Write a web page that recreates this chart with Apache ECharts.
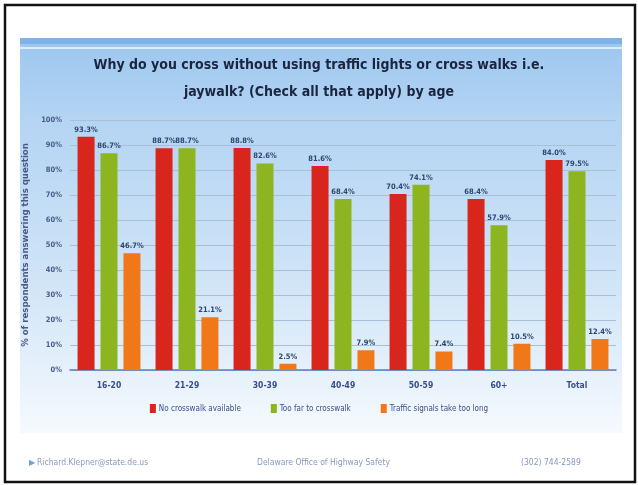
<!DOCTYPE html>
<html><head><meta charset="utf-8">
<script src="https://cdn.jsdelivr.net/npm/echarts@6/dist/echarts.min.js"></script>
<style>html,body{margin:0;padding:0;background:#fff}#c{width:638px;height:485px}</style>
</head><body><div id="c"></div>
<script>
const categories = ['16-20','21-29','30-39','40-49','50-59','60+','Total'];
const noCrosswalk = [93.3, 88.7, 88.8, 81.6, 70.4, 68.4, 84.0];
const tooFar = [86.7, 88.7, 82.6, 68.4, 74.1, 57.9, 79.5];
const signalsLong = [46.7, 21.1, 2.5, 7.9, 7.4, 10.5, 12.4];
const seriesNames = ['No crosswalk available','Too far to crosswalk','Traffic signals take too long'];
const yTicks = [0,10,20,30,40,50,60,70,80,90,100];

const FF = "'Liberation Sans Narrow','DejaVu Sans Condensed','Roboto Condensed','Liberation Sans',Roboto,sans-serif";
const chart = echarts.init(document.getElementById('c'), null, {renderer:'canvas'});
const lbl = {show:true, position:'top', distance:3, formatter: p => p.value.toFixed(1)+'%',
  fontFamily:FF, fontWeight:'bold', fontSize:7.5, color:'#2e4470'};
chart.setOption({
  animation:false,
  backgroundColor:'#ffffff',
  graphic:[
    {type:'rect', shape:{x:20,y:38,width:602,height:395}, z:-10,
     style:{fill:new echarts.graphic.LinearGradient(0,0,0,1,[
       {offset:0,color:'#9cc6ef'},{offset:0.2,color:'#b3d4f3'},{offset:0.6,color:'#cfe4f7'},{offset:0.85,color:'#e6f1fb'},{offset:1,color:'#f6fafe'}])}},
    {type:'rect', shape:{x:20,y:38,width:602,height:6}, z:-9, style:{fill:'#7fb2e6'}},
    {type:'rect', shape:{x:20,y:47,width:602,height:2}, z:-9, style:{fill:'#dcecfb'}},
    {type:'rect', shape:{x:5,y:5,width:630,height:477}, z:20, style:{fill:'none', stroke:'#111', lineWidth:2.5}},
    {type:'text', left:29, top:459, z:5, style:{text:'▶', fontSize:8, fill:'#6fa0d8'}},
    {type:'text', left:37, top:458, z:5, style:{text:'Richard.Klepner@state.de.us', fontFamily:FF, fontSize:8.5, fill:'#8a98bb'}},
    {type:'text', left:257, top:458, z:5, style:{text:'Delaware Office of Highway Safety', fontFamily:FF, fontSize:8.5, fill:'#8a98bb'}},
    {type:'text', left:521, top:458, z:5, style:{text:'(302) 744-2589', fontFamily:FF, fontSize:8.5, fill:'#8a98bb'}}
  ],
  title:{
    text:'Why do you cross without using traffic lights or cross walks i.e.\njaywalk? (Check all that apply) by age',
    left:'center', top:47,
    textStyle:{fontFamily:FF, fontWeight:'bold', fontSize:14, color:'#1c2540', lineHeight:27}
  },
  legend:{
    data:seriesNames, bottom:67, left:'center', itemWidth:6, itemHeight:9, itemGap:30,
    icon:'rect',
    textStyle:{fontFamily:FF, fontSize:8, color:'#3a4d86', padding:[0,0,0,-2]}
  },
  grid:{left:70, right:22, top:120, bottom:115},
  xAxis:{
    type:'category', data:categories,
    axisLine:{lineStyle:{color:'#5d7fb5', width:1.5}},
    axisTick:{show:false},
    axisLabel:{fontFamily:FF, fontWeight:'bold', fontSize:8.5, color:'#3a4d86', margin:11}
  },
  yAxis:{
    type:'value', min:0, max:100, interval:10,
    name:'% of respondents answering this question', nameLocation:'middle', nameGap:32, nameRotate:90,
    nameTextStyle:{fontFamily:FF, fontWeight:'bold', fontSize:9.5, color:'#4a5a88'},
    axisLine:{show:false}, axisTick:{show:false},
    axisLabel:{formatter: v => yTicks.includes(v) ? v+'%' : '', fontFamily:FF, fontWeight:'bold', fontSize:7.5, color:'#4a5a88', margin:8},
    splitLine:{lineStyle:{color:'#a9bfd8', width:1}}
  },
  series:[
    {name:seriesNames[0], type:'bar', data:noCrosswalk, barWidth:17, barGap:'35%', itemStyle:{color:'#d8261c'}, label:lbl},
    {name:seriesNames[1], type:'bar', data:tooFar, barWidth:17, barGap:'35%', itemStyle:{color:'#8cb520'}, label:lbl},
    {name:seriesNames[2], type:'bar', data:signalsLong, barWidth:17, barGap:'35%', itemStyle:{color:'#f07818'}, label:lbl}
  ]
});
</script></body></html>
